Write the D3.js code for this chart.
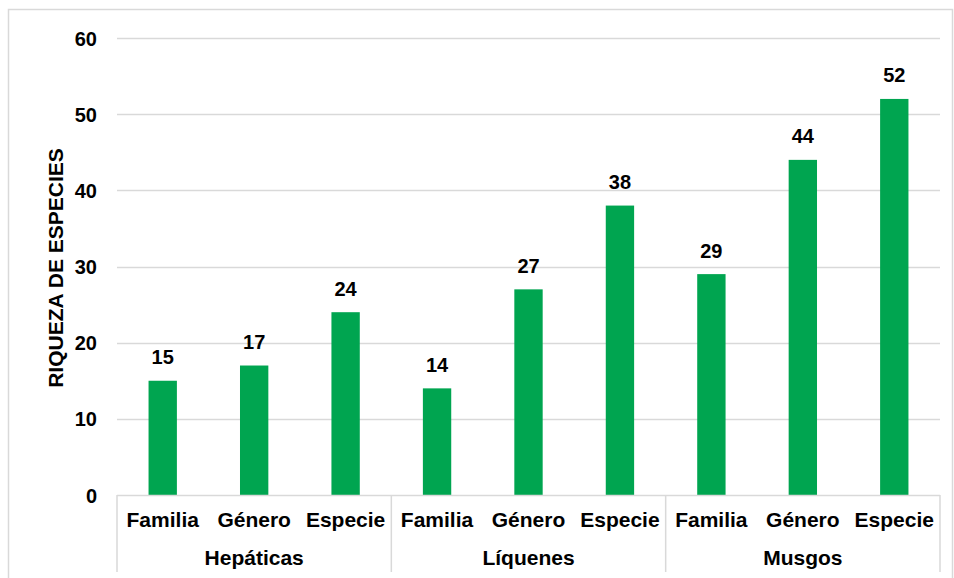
<!DOCTYPE html>
<html><head><meta charset="utf-8">
<script src="https://cdn.jsdelivr.net/npm/d3@7/dist/d3.min.js"></script>
<style>
html,body{margin:0;padding:0;background:#fff;}
text{font-family:"Liberation Sans",Arial,sans-serif;font-weight:bold;fill:#000;}
</style></head>
<body><svg id="c" width="954" height="578"></svg>
<script>
const groups = ["Hepáticas", "Líquenes", "Musgos"];
const categories = ["Familia", "Género", "Especie"];
const values = [
  [15, 17, 24],
  [14, 27, 38],
  [29, 44, 52]
];
const yTicks = [0, 10, 20, 30, 40, 50, 60];
const yTitle = "RIQUEZA DE ESPECIES";

(function () {
const svg = d3.select("#c");
const mL = 117, mR = 940, mT = 38, mB = 495;

// outer border
svg.append("rect").attr("x", 8.5).attr("y", 9.5).attr("width", 944).attr("height", 580)
  .attr("fill", "none").attr("stroke", "#d9d9d9").attr("stroke-width", 1.5);

const y = d3.scaleLinear().domain([0, 60]).range([mB, mT]);
const xg = d3.scaleBand().domain(groups).range([mL, mR]).padding(0);
const xc = d3.scaleBand().domain(categories).range([0, xg.bandwidth()]).paddingInner(0.69).paddingOuter(0.345);

// gridlines
svg.append("g").selectAll("line").data(yTicks.filter(d => d > 0)).join("line")
  .attr("x1", mL).attr("x2", mR)
  .attr("y1", d => Math.round(y(d)) + 0.5).attr("y2", d => Math.round(y(d)) + 0.5)
  .attr("stroke", "#d9d9d9").attr("stroke-width", 1.5);

// y axis labels
const yAxis = d3.axisLeft(y).tickValues(yTicks).tickSize(0).tickPadding(0);
const ya = svg.append("g").attr("transform", `translate(${mL - 20},0)`).call(yAxis);
ya.select(".domain").remove();
ya.selectAll("text").style("font-size", "20px").style("font-family", "Liberation Sans, Arial, sans-serif")
  .style("font-weight", "bold").attr("fill", "#000").attr("dy", "0.35em");

// y title
svg.append("text").attr("transform", `translate(63,268) rotate(-90)`)
  .attr("text-anchor", "middle").style("font-size", "21px").text(yTitle);

// bars
const flat = [];
groups.forEach((g, gi) => categories.forEach((c, ci) => flat.push({g, c, v: values[gi][ci]})));
svg.append("g").selectAll("rect").data(flat).join("rect")
  .attr("x", d => xg(d.g) + xc(d.c))
  .attr("width", xc.bandwidth())
  .attr("y", d => y(d.v))
  .attr("height", d => y(0) - y(d.v))
  .attr("fill", "#00A550");

// value labels
svg.append("g").selectAll("text").data(flat).join("text")
  .attr("x", d => xg(d.g) + xc(d.c) + xc.bandwidth() / 2)
  .attr("y", d => y(d.v) - 16.5)
  .attr("text-anchor", "middle").style("font-size", "20px")
  .text(d => d.v);

// x axis line
svg.append("line").attr("x1", mL).attr("x2", mR)
  .attr("y1", mB + 0.5).attr("y2", mB + 0.5)
  .attr("stroke", "#d9d9d9").attr("stroke-width", 1.5);

// group separators
const seps = groups.map(g => xg(g)).concat([mR]);
svg.append("g").selectAll("line").data(seps).join("line")
  .attr("x1", d => d).attr("x2", d => d)
  .attr("y1", mB).attr("y2", 572)
  .attr("stroke", "#d9d9d9").attr("stroke-width", 1.5);

// category labels
groups.forEach(g => {
  svg.append("g").selectAll("text").data(categories).join("text")
    .attr("x", c => xg(g) + xc(c) + xc.bandwidth() / 2)
    .attr("y", 527)
    .attr("text-anchor", "middle").style("font-size", "21px")
    .text(c => c);
});
svg.append("g").selectAll("text").data(groups).join("text")
  .attr("x", g => xg(g) + xg.bandwidth() / 2)
  .attr("y", 565)
  .attr("text-anchor", "middle").style("font-size", "21px")
  .text(g => g);
})();
</script></body></html>
